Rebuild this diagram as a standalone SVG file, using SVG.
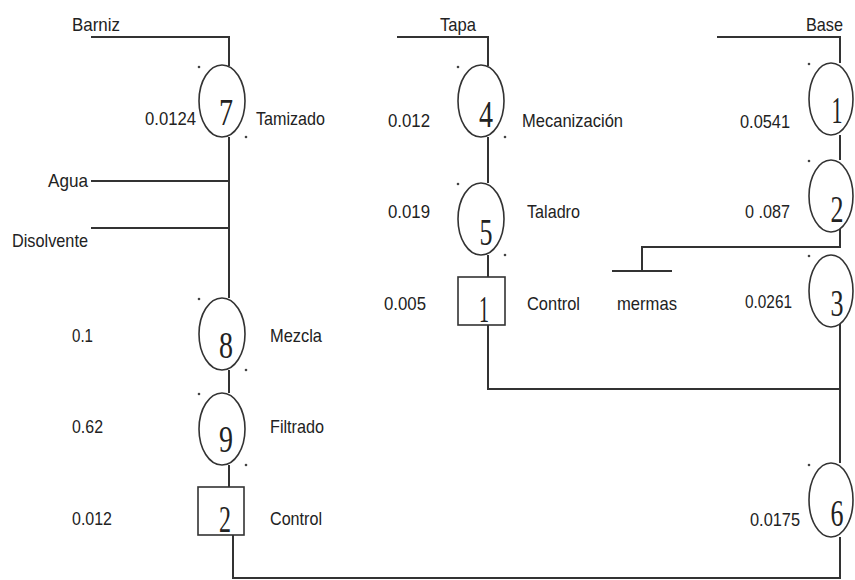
<svg xmlns="http://www.w3.org/2000/svg" width="855" height="580" viewBox="0 0 855 580">
<style>
.ln{stroke:#333;stroke-width:2;fill:none}
.op{fill:#fff;stroke:#333;stroke-width:1.6}
.t{font-family:"Liberation Sans",Arial,sans-serif;font-size:19px;fill:#222}
.n{font-family:"Liberation Serif","Times New Roman",serif;font-size:38px;fill:#222;text-anchor:middle}
.d{fill:#444}
</style>
<rect width="855" height="580" fill="#fff"/>
<g id="connectors">
<path class="ln" d="M91,37 H229 V66"/>
<path class="ln" d="M229,137 V298"/>
<path class="ln" d="M91,181 H229"/>
<path class="ln" d="M91,228 H229"/>
<path class="ln" d="M229,370 V393"/>
<path class="ln" d="M229,465 V487"/>
<path class="ln" d="M233,535 V578 H840 V537"/>
<path class="ln" d="M397,37 H488 V66"/>
<path class="ln" d="M488,137 V183"/>
<path class="ln" d="M488,255 V277"/>
<path class="ln" d="M488,310 V389 H840"/>
<path class="ln" d="M717,37 H840 V63"/>
<path class="ln" d="M840,135 V160"/>
<path class="ln" d="M840,222 V247 H642 V271"/>
<path class="ln" d="M612,271 H672"/>
<path class="ln" d="M840,315 V463"/>
</g>
<g id="labels">
<text class="t" x="72" y="31" textLength="48" lengthAdjust="spacingAndGlyphs">Barniz</text>
<text class="t" x="440" y="31" textLength="36" lengthAdjust="spacingAndGlyphs">Tapa</text>
<text class="t" x="806" y="31" textLength="37" lengthAdjust="spacingAndGlyphs">Base</text>
<text class="t" x="48" y="187" textLength="40" lengthAdjust="spacingAndGlyphs">Agua</text>
<text class="t" x="12" y="247" textLength="76" lengthAdjust="spacingAndGlyphs">Disolvente</text>
<text class="t" x="617" y="310" textLength="60" lengthAdjust="spacingAndGlyphs">mermas</text>
</g>
<g id="op7">
<ellipse class="op" cx="222" cy="101" rx="23" ry="36"/>
<circle class="d" cx="199" cy="67" r="1.3"/><circle class="d" cx="246" cy="137" r="1.3"/>
<text class="n" x="226" y="125" textLength="14" lengthAdjust="spacingAndGlyphs">7</text>
<text class="t" x="145" y="125" textLength="51" lengthAdjust="spacingAndGlyphs">0.0124</text>
<text class="t" x="256" y="125" textLength="69" lengthAdjust="spacingAndGlyphs">Tamizado</text>
</g>
<g id="op8">
<ellipse class="op" cx="222" cy="334" rx="23" ry="36"/>
<circle class="d" cx="199" cy="299" r="1.3"/><circle class="d" cx="246" cy="370" r="1.3"/>
<text class="n" x="226" y="358" textLength="14" lengthAdjust="spacingAndGlyphs">8</text>
<text class="t" x="72" y="342" textLength="21" lengthAdjust="spacingAndGlyphs">0.1</text>
<text class="t" x="270" y="342" textLength="52" lengthAdjust="spacingAndGlyphs">Mezcla</text>
</g>
<g id="op9">
<ellipse class="op" cx="222" cy="429" rx="23" ry="36"/>
<circle class="d" cx="199" cy="394" r="1.3"/><circle class="d" cx="246" cy="465" r="1.3"/>
<text class="n" x="226" y="452" textLength="14" lengthAdjust="spacingAndGlyphs">9</text>
<text class="t" x="72" y="433" textLength="31" lengthAdjust="spacingAndGlyphs">0.62</text>
<text class="t" x="270" y="433" textLength="54" lengthAdjust="spacingAndGlyphs">Filtrado</text>
</g>
<g id="ctrl2">
<rect class="op" x="198" y="487" width="46" height="48"/>
<text class="n" x="225" y="532" textLength="12" lengthAdjust="spacingAndGlyphs">2</text>
<text class="t" x="72" y="525" textLength="40" lengthAdjust="spacingAndGlyphs">0.012</text>
<text class="t" x="270" y="525" textLength="52" lengthAdjust="spacingAndGlyphs">Control</text>
</g>
<g id="op4">
<ellipse class="op" cx="481" cy="101" rx="23" ry="36"/>
<circle class="d" cx="458" cy="67" r="1.3"/><circle class="d" cx="505" cy="137" r="1.3"/>
<text class="n" x="486" y="127" textLength="14" lengthAdjust="spacingAndGlyphs">4</text>
<text class="t" x="388" y="127" textLength="42" lengthAdjust="spacingAndGlyphs">0.012</text>
<text class="t" x="522" y="127" textLength="101" lengthAdjust="spacingAndGlyphs">Mecanización</text>
</g>
<g id="op5">
<ellipse class="op" cx="481" cy="219" rx="23" ry="36"/>
<circle class="d" cx="458" cy="184" r="1.3"/><circle class="d" cx="505" cy="255" r="1.3"/>
<text class="n" x="486" y="245" textLength="13" lengthAdjust="spacingAndGlyphs">5</text>
<text class="t" x="388" y="218" textLength="42" lengthAdjust="spacingAndGlyphs">0.019</text>
<text class="t" x="527" y="218" textLength="53" lengthAdjust="spacingAndGlyphs">Taladro</text>
</g>
<g id="ctrl1">
<rect class="op" x="458" y="277" width="47" height="48"/>
<text class="n" x="484" y="322" textLength="10" lengthAdjust="spacingAndGlyphs">1</text>
<text class="t" x="384" y="310" textLength="42" lengthAdjust="spacingAndGlyphs">0.005</text>
<text class="t" x="527" y="310" textLength="53" lengthAdjust="spacingAndGlyphs">Control</text>
</g>
<g id="op1">
<ellipse class="op" cx="831" cy="99" rx="22" ry="36"/>
<circle class="d" cx="809" cy="64" r="1.3"/>
<text class="n" x="837" y="123" textLength="11" lengthAdjust="spacingAndGlyphs">1</text>
<text class="t" x="740" y="128" textLength="50" lengthAdjust="spacingAndGlyphs">0.0541</text>
</g>
<g id="op2">
<ellipse class="op" cx="831" cy="196" rx="22" ry="36"/>
<circle class="d" cx="809" cy="161" r="1.3"/>
<text class="n" x="837" y="222" textLength="13" lengthAdjust="spacingAndGlyphs">2</text>
<text class="t" x="745" y="218" textLength="45" lengthAdjust="spacingAndGlyphs">0 .087</text>
</g>
<g id="op3">
<ellipse class="op" cx="831" cy="291" rx="22" ry="36"/>
<circle class="d" cx="809" cy="256" r="1.3"/>
<text class="n" x="837" y="316" textLength="13" lengthAdjust="spacingAndGlyphs">3</text>
<text class="t" x="745" y="308" textLength="47" lengthAdjust="spacingAndGlyphs">0.0261</text>
</g>
<g id="op6">
<ellipse class="op" cx="831" cy="500" rx="22" ry="37"/>
<circle class="d" cx="809" cy="465" r="1.3"/>
<text class="n" x="837" y="526" textLength="13" lengthAdjust="spacingAndGlyphs">6</text>
<text class="t" x="750" y="526" textLength="50" lengthAdjust="spacingAndGlyphs">0.0175</text>
</g>
</svg>
